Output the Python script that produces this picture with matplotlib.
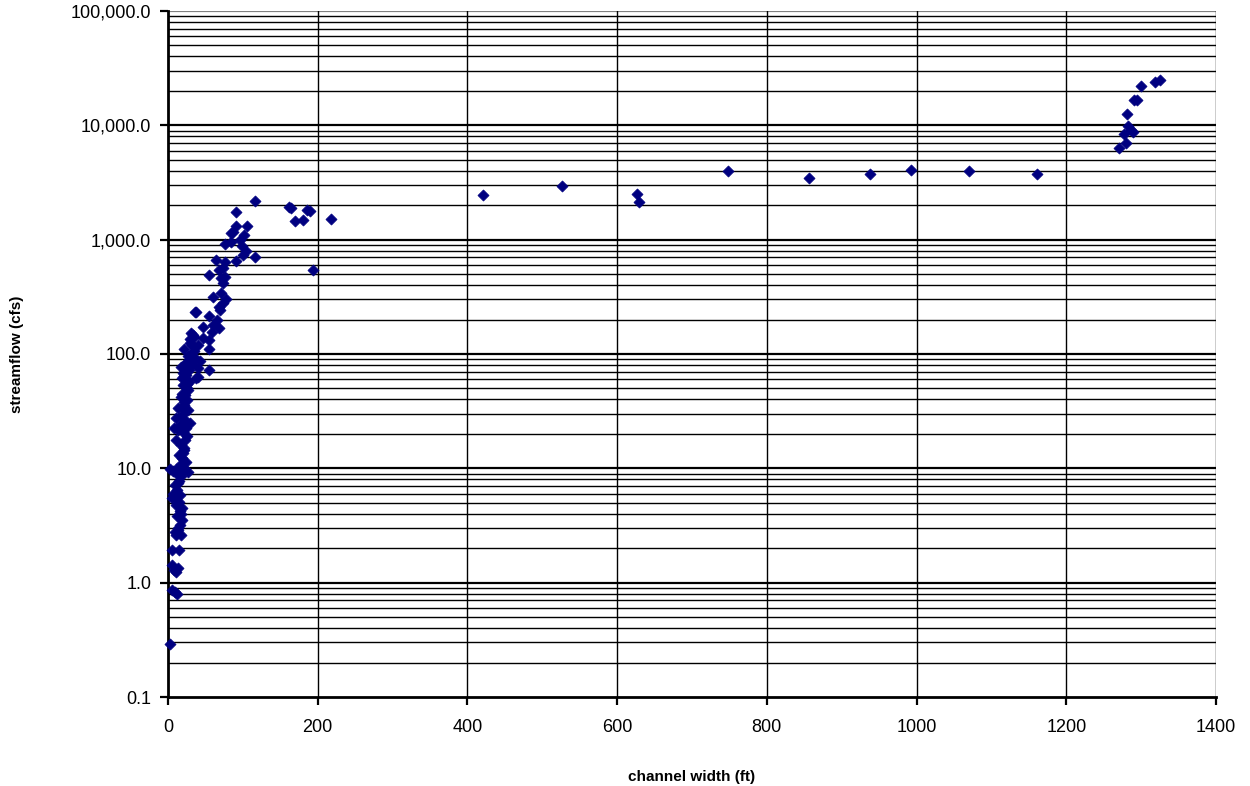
import matplotlib
matplotlib.use("Agg")
import matplotlib.pyplot as plt
from matplotlib.ticker import FixedLocator, FuncFormatter, NullFormatter

plt.rcParams['font.family'] = ['Liberation Sans', 'DejaVu Sans']

# channel width (ft) and streamflow (cfs) for each surveyed site
width_ft = [
    3, 5, 9, 12, 5, 8, 11, 13, 5, 15,
    11, 13, 17, 16, 19, 16, 19, 15, 11, 5, 9, 16, 12,
    3, 7, 11, 16, 23, 27, 20, 13, 24, 19, 15, 21, 17, 11, 23, 20, 13, 8, 24,
    11, 19, 23, 27, 21, 25, 23, 27, 20, 25, 19, 23, 28, 17, 32, 23, 29, 27,
    36, 35, 32, 29, 35, 31, 40, 37, 40, 33, 43, 47, 36,
    37, 55, 47, 60, 68, 59, 55, 55, 55, 40, 69, 73, 65,
    68, 77, 71, 60, 73, 71, 55, 76, 68, 64, 73, 76, 91, 100, 116,
    76, 84, 96, 99, 104, 101, 105, 91, 87, 84, 91, 116,
    161, 164, 170, 180, 190, 186, 218, 194,
    421, 526, 627, 629, 748, 856, 938, 993, 1070, 1161,
    1270, 1277, 1280, 1283, 1281, 1286, 1289, 1291, 1294, 1300, 1318, 1325,
    14, 18, 21, 26, 30, 22, 18, 25, 28, 24, 20, 26, 31, 22, 29,
    7, 10, 14, 17, 9, 12, 15, 18, 20, 16, 13, 21, 19, 25, 22,
]
flow_cfs = [
    0.29, 0.87, 0.83, 0.80, 1.44, 1.30, 1.25, 1.35, 1.94, 1.94,
    2.6, 2.9, 2.6, 3.2, 3.55, 4.2, 4.5, 5.1, 4.8, 5.5, 5.9, 5.9, 6.5,
    9.8, 9.4, 9.8, 9.4, 9.8, 9.2, 10.0, 8.8, 11.4, 12.4, 13.2, 14.6, 16.1, 17.8, 17.8, 20.9, 21.8, 22.7, 22.7,
    27.8, 29.5, 26.7, 32.6, 36.0, 39.9, 44.0, 48.7, 53.9, 59.5, 62.0, 70.0, 73.0, 76.7, 81.0, 81.0, 90.0, 96.0,
    93.0, 106.0, 120.0, 134.0, 142.0, 154.0, 121.0, 62.0, 76.0, 146.0, 86.0, 138.0, 231.0,
    231.0, 215.0, 173.0, 181.0, 170.0, 157.0, 133.0, 111.0, 73.0, 63.0, 245.0, 280.0, 199.0,
    260.0, 300.0, 344.0, 318.0, 420.0, 464.0, 488.0, 475.0, 547.0, 670.0, 570.0, 640.0, 656.0, 740.0, 710.0,
    910.0, 960.0, 1000.0, 880.0, 790.0, 1100.0, 1330.0, 1330.0, 1170.0, 1150.0, 1750.0, 2200.0,
    1930.0, 1880.0, 1446.0, 1475.0, 1770.0, 1830.0, 1528.0, 547.0,
    2477.0, 2966.0, 2525.0, 2150.0, 4017.0, 3484.0, 3777.0, 4093.0, 4017.0, 3777.0,
    6380.0, 8450.0, 7000.0, 9800.0, 12600.0, 9100.0, 8700.0, 16500.0, 16800.0, 22000.0, 24000.0, 25000.0,
    7.5, 8.5, 15.0, 19.0, 25.0, 33.0, 42.0, 50.0, 57.0, 66.0, 68.0, 85.0, 100.0, 110.0, 125.0,
    6.0, 7.2, 3.0, 4.0, 2.8, 3.8, 7.8, 11.0, 13.5, 24.0, 34.0, 38.0, 45.0, 55.0, 64.0,
]

x_ticks = [0, 200, 400, 600, 800, 1000, 1200, 1400]
y_major = [0.1, 1, 10, 100, 1000, 10000, 100000]

fig = plt.figure(figsize=(12.5, 7.86), dpi=100)
ax = fig.add_axes([168 / 1250, 1 - 697 / 786, (1216 - 168) / 1250, (697 - 11) / 786])

ax.set_yscale('log')
ax.set_xlim(0, 1400)
ax.set_ylim(0.1, 100000)

# horizontal gridlines at every decade and every intermediate 2..9 step
for d in y_major[:-1]:
    for m in range(2, 10):
        ax.axhline(d * m, color='black', lw=1.0, zorder=1)
for d in y_major[1:-1]:
    ax.axhline(d, color='black', lw=1.6, zorder=1)
ax.axhline(100000, color='#808080', lw=1.6, zorder=1)
for xv in x_ticks[1:]:
    ax.axvline(xv, color='black', lw=1.0, zorder=1)

ax.scatter(width_ft, flow_cfs, marker='D', s=32, color='#000080',
           edgecolors='#000080', linewidths=0.5, zorder=3, clip_on=False)

ax.xaxis.set_major_locator(FixedLocator(x_ticks))
ax.yaxis.set_major_locator(FixedLocator(y_major))
ax.yaxis.set_minor_locator(FixedLocator([]))
ax.yaxis.set_minor_formatter(NullFormatter())
ax.yaxis.set_major_formatter(FuncFormatter(lambda v, p: f"{v:,.1f}"))

ax.tick_params(axis='both', which='major', direction='out', length=6, width=1.6,
               labelsize=13, colors='black', pad=6)
ax.tick_params(axis='x', pad=10)

for side in ('left', 'bottom'):
    ax.spines[side].set_linewidth(2.0)
    ax.spines[side].set_color('black')
ax.spines['top'].set_visible(False)
ax.spines['right'].set_visible(False)

ax.set_xlabel('channel width (ft)', fontsize=11, fontweight='bold', labelpad=24)
ax.set_ylabel('streamflow (cfs)', fontsize=11, fontweight='bold', labelpad=34)

fig.savefig('out.png', dpi=100)
